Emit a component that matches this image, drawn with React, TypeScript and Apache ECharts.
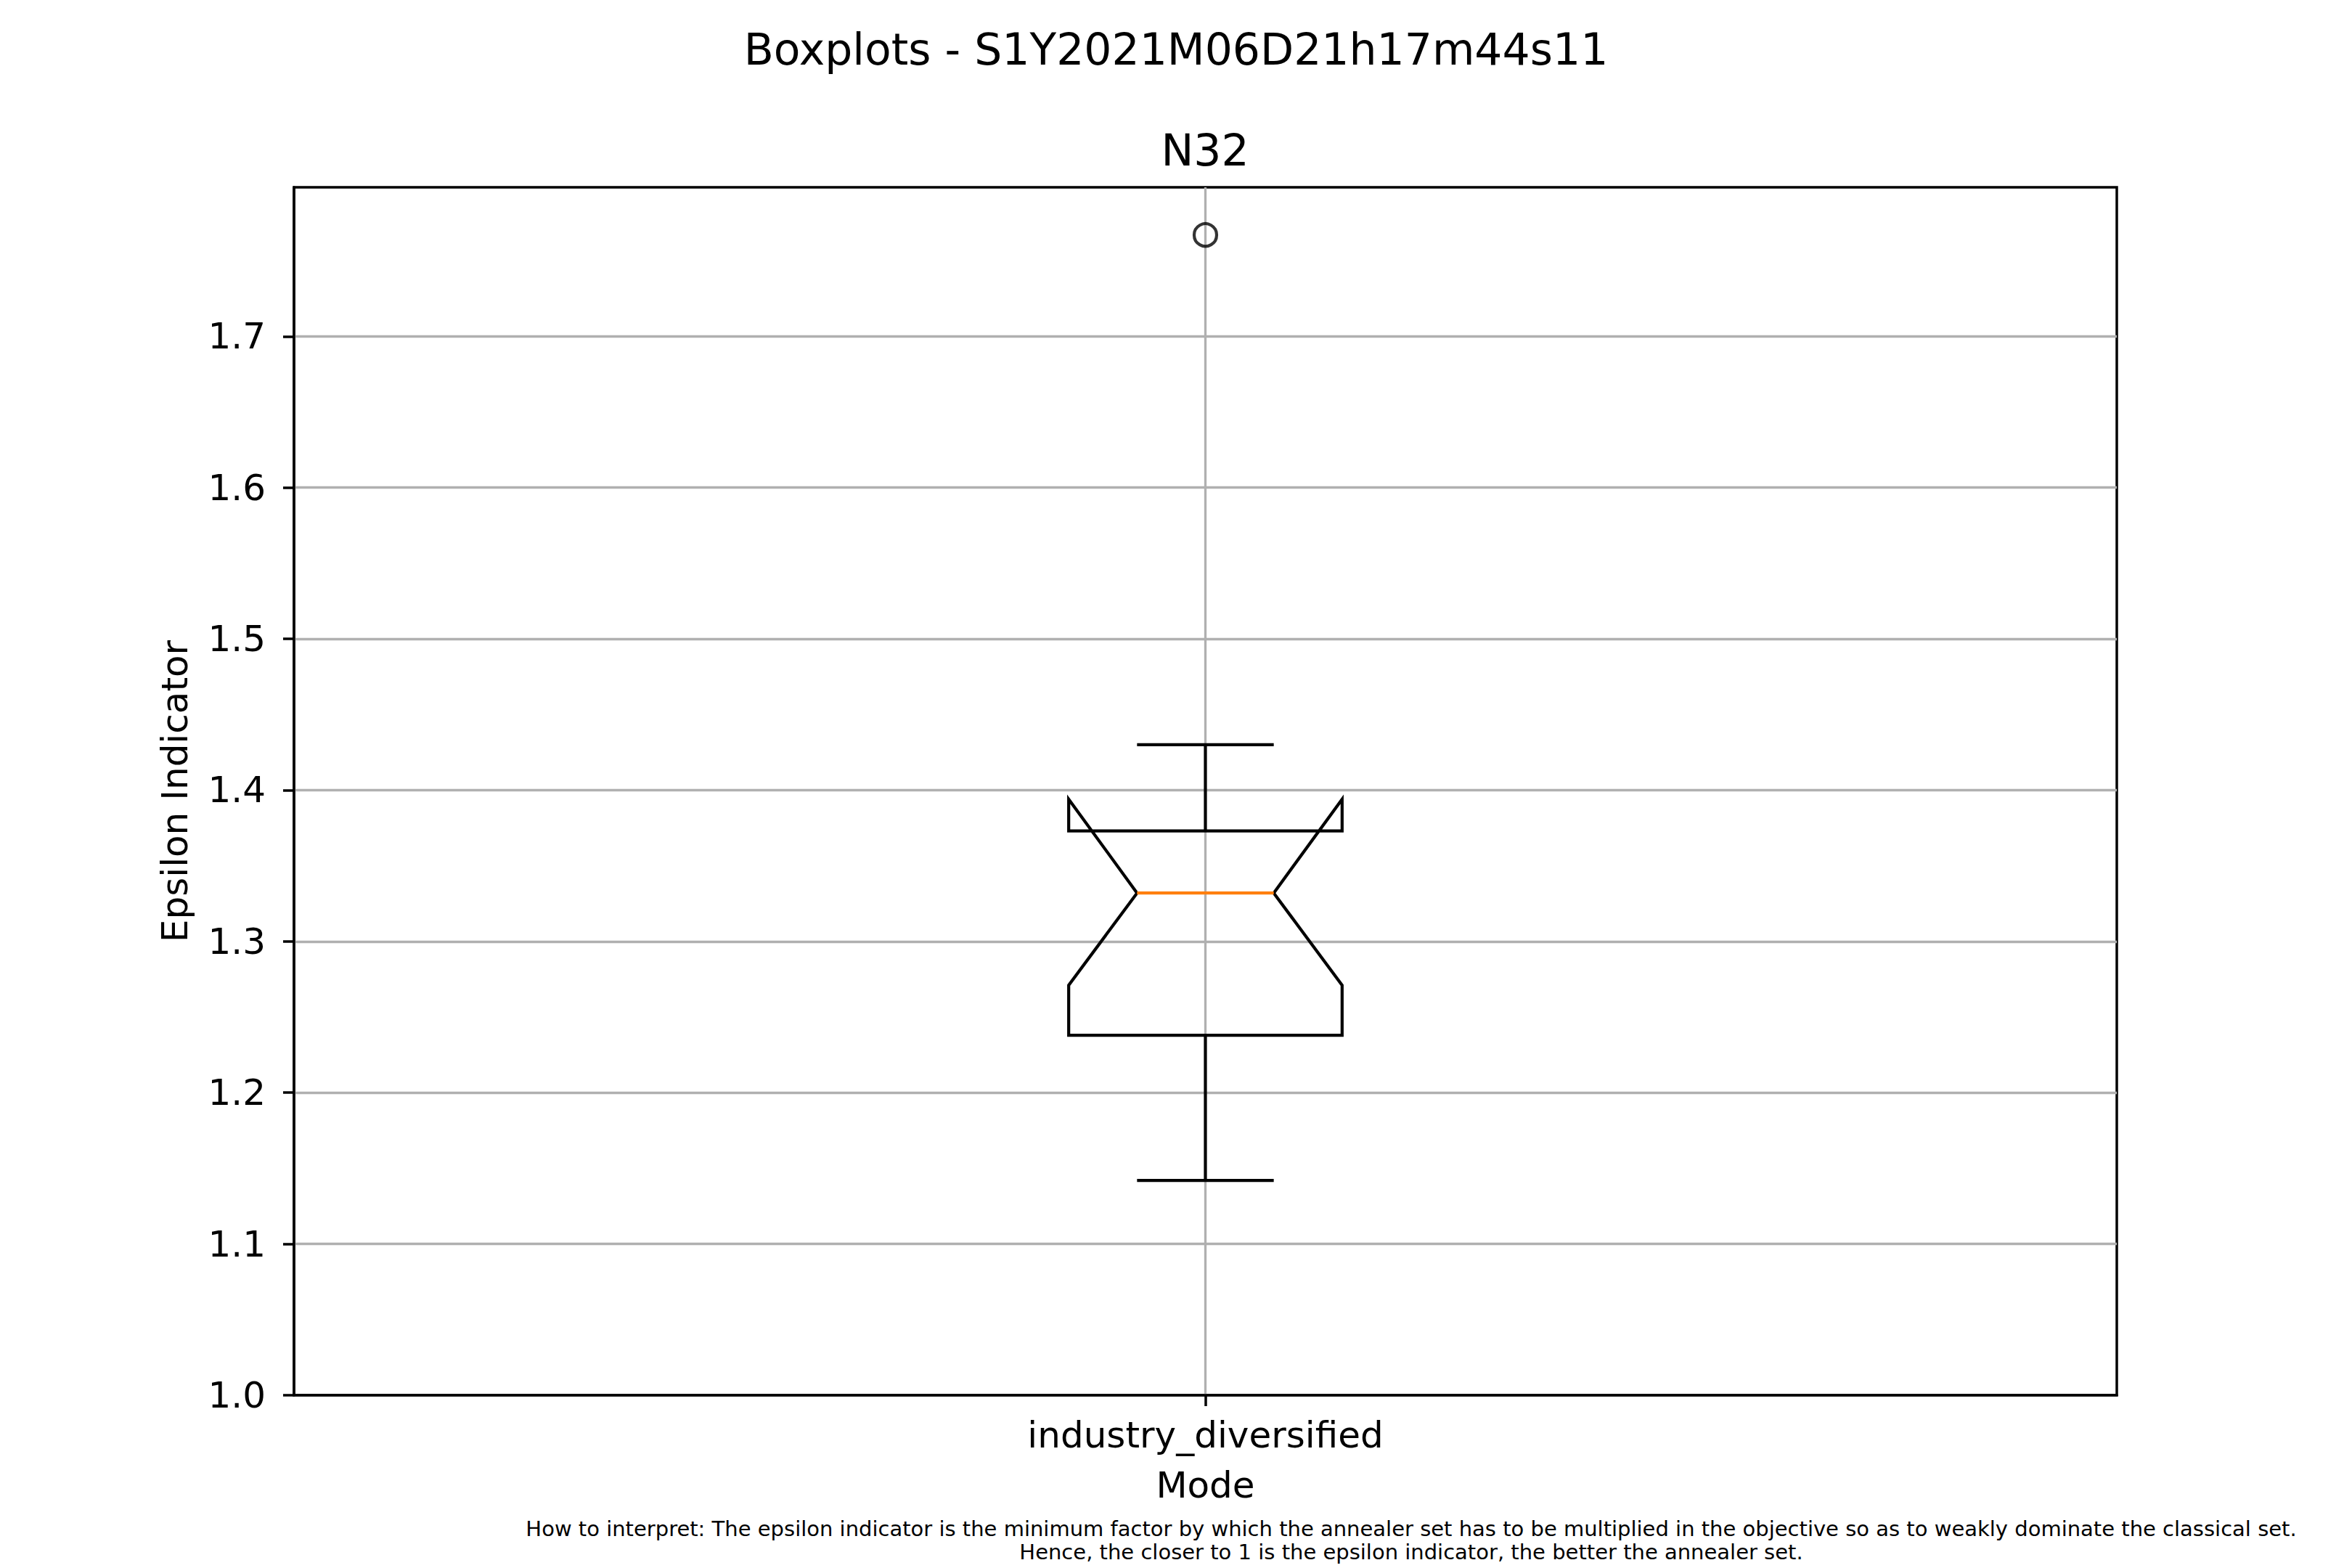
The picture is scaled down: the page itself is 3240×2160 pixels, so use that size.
import React, { useEffect, useRef } from 'react';
import * as echarts from 'echarts';

// ---- data ----
const categories = ['industry_diversified'];
const whiskerLow = [1.142];
const q1 = [1.238];
const notchLow = [1.271];
const medians = [1.332];
const notchHigh = [1.394];
const q3 = [1.373];
const whiskerHigh = [1.43];
const outliers = [[1.767]];
const yTicks = [1.0, 1.1, 1.2, 1.3, 1.4, 1.5, 1.6, 1.7];
const yMin = 1.0;
const yMax = 1.7985;

const mainTitle = 'Boxplots - S1Y2021M06D21h17m44s11';
const subTitle = 'N32';
const yName = 'Epsilon Indicator';
const xName = 'Mode';
const footer =
  'How to interpret: The epsilon indicator is the minimum factor by which the annealer set has to be multiplied in the objective so as to weakly dominate the classical set.\nHence, the closer to 1 is the epsilon indicator, the better the annealer set.';

const FONT = "'DejaVu Sans', sans-serif";
const BOX_W = 0.15;

export default function App() {
  const ref = useRef<HTMLDivElement>(null);
  useEffect(() => {
    document.body.style.margin = '0';
    const chart = echarts.init(ref.current!, null, { renderer: 'svg' });
    const boxData = categories.map((_, i) => [
      i + 1,
      whiskerLow[i],
      q1[i],
      notchLow[i],
      medians[i],
      notchHigh[i],
      q3[i],
      whiskerHigh[i],
    ]);
    const flierData: number[][] = [];
    categories.forEach((_, i) => outliers[i].forEach((v) => flierData.push([i + 1, v])));

    const option: any = {
      animation: false,
      backgroundColor: '#ffffff',
      grid: {
        left: 405,
        right: 324,
        top: 258,
        bottom: 238,
        show: true,
        borderColor: '#000',
        borderWidth: 3.5,
        backgroundColor: 'transparent',
      },
      xAxis: {
        type: 'value',
        min: 0.5,
        max: 1.5,
        name: xName,
        nameLocation: 'middle',
        nameGap: 124,
        nameTextStyle: { fontFamily: FONT, fontSize: 50, color: '#000', verticalAlign: 'middle' },
        axisLine: { show: true, onZero: false, lineStyle: { color: '#000', width: 3.5 } },
        axisTick: {
          show: true,
          length: 15,
          lineStyle: { color: '#000', width: 3.5 },
          customValues: categories.map((_, i) => i + 1),
        },
        axisLabel: {
          fontFamily: FONT,
          fontSize: 50,
          color: '#000',
          margin: 55,
          verticalAlign: 'middle',
          customValues: categories.map((_, i) => i + 1),
          formatter: (v: number) => categories[Math.round(v) - 1] ?? '',
        },
        splitLine: { show: true, lineStyle: { color: '#b0b0b0', width: 3.3 } },
      },
      yAxis: {
        type: 'value',
        min: yMin,
        max: yMax,
        name: yName,
        nameLocation: 'middle',
        nameGap: 164,
        nameTextStyle: { fontFamily: FONT, fontSize: 50, color: '#000', verticalAlign: 'middle' },
        axisLine: { show: true, onZero: false, lineStyle: { color: '#000', width: 3.5 } },
        axisTick: {
          show: true,
          length: 15,
          lineStyle: { color: '#000', width: 3.5 },
          customValues: yTicks,
        },
        axisLabel: {
          fontFamily: FONT,
          fontSize: 50,
          color: '#000',
          margin: 39,
          customValues: yTicks,
          formatter: (v: number) => v.toFixed(1),
        },
        splitLine: { show: true, lineStyle: { color: '#b0b0b0', width: 3.3 } },
      },
      graphic: [
        {
          type: 'text',
          x: 1620,
          y: 68,
          style: { text: mainTitle, font: `60px ${FONT}`, fill: '#000', textAlign: 'center', textVerticalAlign: 'middle' },
        },
        {
          type: 'text',
          x: 1660,
          y: 207,
          style: { text: subTitle, font: `60px ${FONT}`, fill: '#000', textAlign: 'center', textVerticalAlign: 'middle' },
        },
        {
          type: 'text',
          x: 1944,
          y: 2122,
          style: {
            text: footer,
            font: `29px ${FONT}`,
            lineHeight: 32,
            fill: '#000',
            textAlign: 'center',
            textVerticalAlign: 'middle',
          },
        },
      ],
      series: [
        {
          type: 'custom',
          data: boxData,
          z: 3,
          renderItem: (params: any, api: any) => {
            const x = api.value(0);
            const wl = api.value(1);
            const lq = api.value(2);
            const nl = api.value(3);
            const md = api.value(4);
            const nh = api.value(5);
            const uq = api.value(6);
            const wh = api.value(7);
            const hw = BOX_W / 2;
            const p = (dx: number, v: number) => api.coord([x + dx, v]);
            const stroke = { stroke: '#000', lineWidth: 4.2, fill: 'none' };
            return {
              type: 'group',
              children: [
                {
                  type: 'line',
                  shape: { x1: p(0, wl)[0], y1: p(0, wl)[1], x2: p(0, lq)[0], y2: p(0, lq)[1] },
                  style: stroke,
                },
                {
                  type: 'line',
                  shape: { x1: p(0, uq)[0], y1: p(0, uq)[1], x2: p(0, wh)[0], y2: p(0, wh)[1] },
                  style: stroke,
                },
                {
                  type: 'line',
                  shape: { x1: p(-hw / 2, wl)[0], y1: p(0, wl)[1], x2: p(hw / 2, wl)[0], y2: p(0, wl)[1] },
                  style: stroke,
                },
                {
                  type: 'line',
                  shape: { x1: p(-hw / 2, wh)[0], y1: p(0, wh)[1], x2: p(hw / 2, wh)[0], y2: p(0, wh)[1] },
                  style: stroke,
                },
                {
                  type: 'polygon',
                  shape: {
                    points: [
                      p(-hw, lq),
                      p(hw, lq),
                      p(hw, nl),
                      p(hw / 2, md),
                      p(hw, nh),
                      p(hw, uq),
                      p(-hw, uq),
                      p(-hw, nh),
                      p(-hw / 2, md),
                      p(-hw, nl),
                    ],
                  },
                  style: { ...stroke, lineJoin: 'miter' },
                },
                {
                  type: 'line',
                  shape: { x1: p(-hw / 2, md)[0], y1: p(0, md)[1], x2: p(hw / 2, md)[0], y2: p(0, md)[1] },
                  style: { stroke: '#ff7f0e', lineWidth: 4.2 },
                },
              ],
            };
          },
        },
        {
          type: 'scatter',
          data: flierData,
          symbol: 'circle',
          symbolSize: 31,
          z: 4,
          itemStyle: { color: 'rgba(0,0,0,0)', borderColor: '#000', borderWidth: 4.2 },
        },
      ],
    };
    chart.setOption(option);
    return () => chart.dispose();
  }, []);
  return (
    <div
      ref={ref}
      style={{ position: 'absolute', left: 0, top: 0, width: 3240, height: 2160, background: '#fff' }}
    />
  );
}
